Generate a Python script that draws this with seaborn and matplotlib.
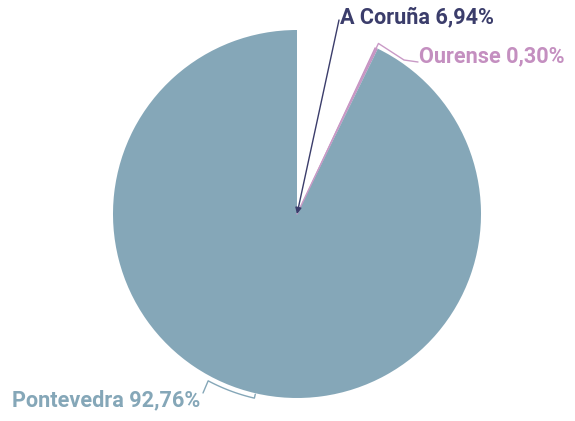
import numpy as np
import matplotlib
matplotlib.use("Agg")
import matplotlib.pyplot as plt
import seaborn as sns

provincias = ["A Coruña", "Ourense", "Pontevedra"]
porcentajes = [6.94, 0.30, 92.76]
colores_sector = ["#ffffff", "#c48fc0", "#85a7b8"]
colores_texto = ["#3b3d6b", "#c48fc0", "#85a7b8"]

sns.set_theme(style="white")
plt.rcParams["font.family"] = ["Roboto", "DejaVu Sans"]

W, H = 575, 421
fig = plt.figure(figsize=(W / 100, H / 100), dpi=100)
ax = fig.add_axes([0, 0, 1, 1])
ax.set_xlim(0, W)
ax.set_ylim(0, H)
ax.set_aspect("equal")
ax.axis("off")

cx, cy, R = 297, H - 214, 184
wedges, _ = ax.pie(porcentajes, colors=colores_sector, startangle=90,
                   counterclock=False, center=(cx, cy), radius=R,
                   wedgeprops=dict(linewidth=0))
ax.set_xlim(0, W)
ax.set_ylim(0, H)


def etiqueta(i):
    return f"{provincias[i]} {porcentajes[i]:.2f}%".replace(".", ",")


def polar(ang, r):
    a = np.deg2rad(ang)
    return cx + r * np.cos(a), cy + r * np.sin(a)


fs = 15.6
fw = "bold"
# A Coruña: arrow from the label down to the centre of the pie
ax.annotate("", xy=(cx, cy), xytext=(339, H - 20),
            arrowprops=dict(arrowstyle="-|>", color=colores_texto[0], lw=1.0,
                            mutation_scale=9, shrinkA=0, shrinkB=0))
ax.text(340, H - 17, etiqueta(0), color=colores_texto[0], fontsize=fs,
        fontweight=fw, va="center", ha="left")

# Ourense: thin wedge with an elbow connector
w = wedges[1]
mid = (w.theta1 + w.theta2) / 2
x0, y0 = polar(mid, R + 5)
ax.plot([cx, x0, 404, 418], [cy, y0, H - 60, H - 62], color="#c99ac6", lw=1.0)
ax.text(419, H - 56, etiqueta(1), color=colores_texto[1], fontsize=fs,
        fontweight=fw, va="center", ha="left")

# Pontevedra: bracket along the rim
w = wedges[2]
mid = (w.theta1 + w.theta2) / 2
angs = np.linspace(mid - 15, mid, 40)
xs, ys = polar(angs, R + 5)
xi, yi = polar(mid, R + 1)
ax.plot([203, xs[0]] + list(xs) + [xi], [H - 393, ys[0]] + list(ys) + [yi],
        color=colores_texto[2], lw=1.0)
ax.text(12, H - 400, etiqueta(2), color=colores_texto[2], fontsize=fs,
        fontweight=fw, va="center", ha="left")

fig.savefig("out.png", dpi=100)
